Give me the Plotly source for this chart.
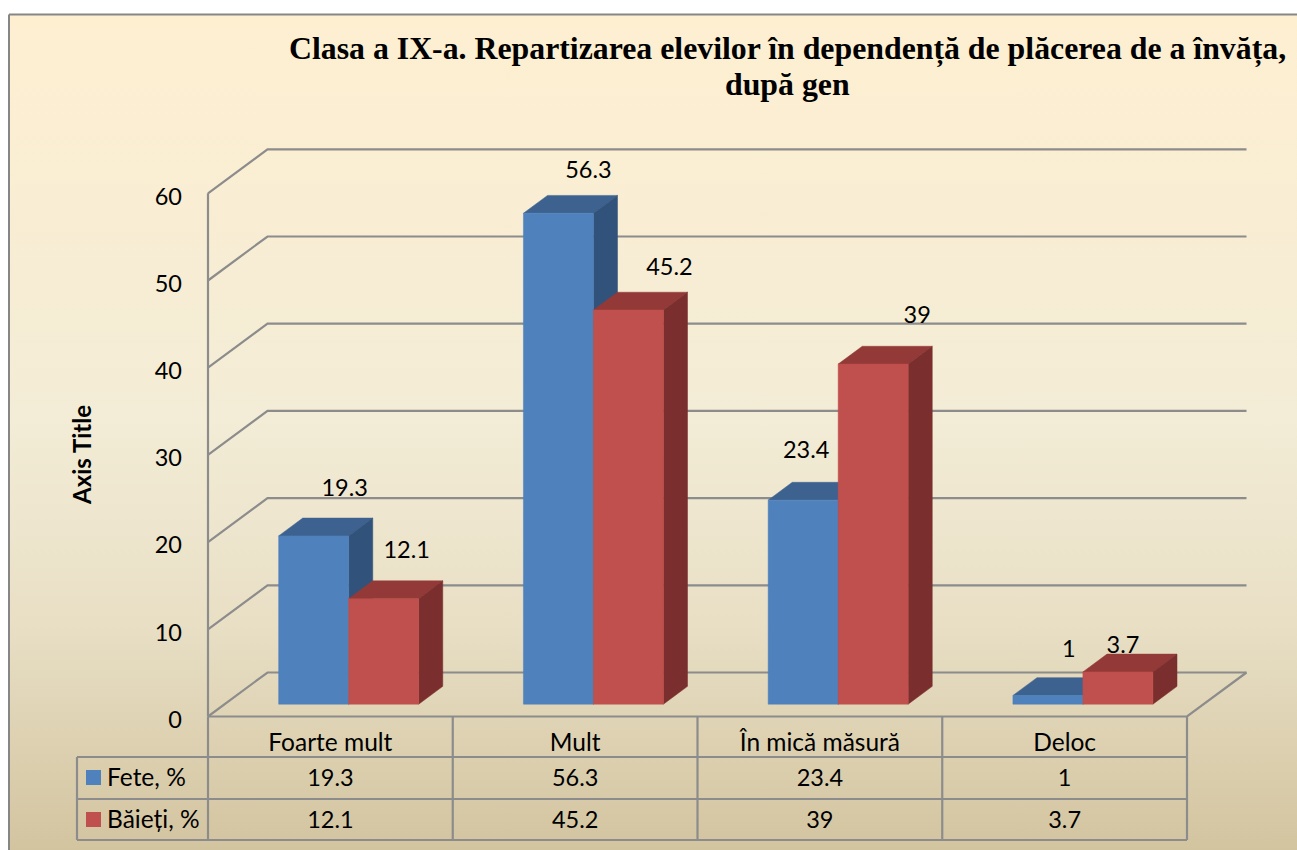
import plotly.graph_objects as go

# ---------- data ----------
categories = ["Foarte mult", "Mult", "În mică măsură", "Deloc"]
fete = [19.3, 56.3, 23.4, 1]
baieti = [12.1, 45.2, 39, 3.7]
series_names = ["Fete, %", "Băieți, %"]
y_ticks = [0, 10, 20, 30, 40, 50, 60]
title_line1 = "Clasa a IX-a. Repartizarea elevilor în dependență de plăcerea de a învăța,"
title_line2 = "după gen"
axis_title = "Axis Title"

# ---------- scale of the page ----------
W, H = 1297, 850
X0_PX, Y0_PX = 208.0, 716.5          # category 0 / value 0 in front plane
CAT_PX, VAL_PX = 244.75, 8.72        # pixels per category / per value unit
n_cat = len(categories)
x_range = [-X0_PX / CAT_PX, (W - X0_PX) / CAT_PX]
y_range = [-(H - Y0_PX) / VAL_PX, Y0_PX / VAL_PX]


def hx(dx_px):
    return dx_px / CAT_PX


def vy(dy_px):
    return dy_px / VAL_PX


def X(p):
    return (p - X0_PX) / CAT_PX


def Y(p):
    return (Y0_PX - p) / VAL_PX


DX, DY = hx(59.5), vy(44.0)          # depth vector of the box
Z0, Z1 = 0.28, 0.685                 # bar extent in depth
BAR_START, BAR_W = hx(54.0), hx(70.0)

GRID = "#8C8C8C"
BLUE = ("#4F81BD", "#3D6290", "#31527A")
RED = ("#C0504D", "#933A38", "#7A2E2D")
FONT = "Lato"
FS_NUM = 23.5
FS_TXT = 24.5

fig = go.Figure()


def poly(xs, ys, color):
    fig.add_trace(go.Scatter(x=xs + xs[:1], y=ys + ys[:1], mode="lines", fill="toself",
                             fillcolor=color, line=dict(color=color, width=0.5),
                             hoverinfo="skip", showlegend=False))


def line(xs, ys, width=2.2, color=GRID):
    fig.add_trace(go.Scatter(x=xs, y=ys, mode="lines", line=dict(color=color, width=width),
                             hoverinfo="skip", showlegend=False))


def text(xs, ys, labels, size=FS_NUM, pos="middle center"):
    fig.add_trace(go.Scatter(x=xs, y=ys, mode="text", text=labels, textposition=pos,
                             textfont=dict(family=FONT, size=size, color="#000000"),
                             hoverinfo="skip", showlegend=False))


# background panel with gradient
fig.add_trace(go.Scatter(
    x=[X(9), X(1310), X(1310), X(9), X(9)], y=[Y(14.5), Y(14.5), Y(860), Y(860), Y(14.5)],
    mode="lines", fill="toself", line=dict(color="#868686", width=2),
    fillgradient=dict(type="vertical", colorscale=[
        [0.0, "#D2C39E"], [0.28, "#E8DFC5"], [0.52, "#F3ECD6"], [1.0, "#FEEFD1"]]),
    hoverinfo="skip", showlegend=False))

# walls and floor
for t in y_ticks:
    line([0, DX, n_cat + DX], [t, t + DY, t + DY])
line([0, 0], [0, y_ticks[-1]])
line([0, n_cat, n_cat + DX], [0, 0, DY])

# bars, back to front
for i in range(n_cat):
    for s, (vals, cols) in enumerate(((fete, BLUE), (baieti, RED))):
        v = vals[i]
        x0 = i + BAR_START + s * BAR_W
        x1 = x0 + BAR_W
        fx0, fx1 = x0 + Z0 * DX, x1 + Z0 * DX
        bx0, bx1 = x0 + Z1 * DX, x1 + Z1 * DX
        fb, bb = Z0 * DY, Z1 * DY
        poly([fx0, fx1, bx1, bx0], [fb + v, fb + v, bb + v, bb + v], cols[1])
        poly([fx1, bx1, bx1, fx1], [fb, bb, bb + v, fb + v], cols[2])
        poly([fx0, fx1, fx1, fx0], [fb, fb, fb + v, fb + v], cols[0])

# data labels (hand-placed in the original): offsets from the bar top-centre, px
label_dx = [[31, 30, 3, 21], [23, 41, 44, 5]]
label_dy = [[46, 41, 48, 44], [47, 41, 47, 25]]
for s, vals in enumerate((fete, baieti)):
    xs, ys = [], []
    for i, v in enumerate(vals):
        xs.append(i + BAR_START + (s + 0.5) * BAR_W + Z0 * DX + hx(label_dx[s][i]))
        ys.append(Z0 * DY + v + vy(label_dy[s][i]))
    text(xs, ys, [str(v) for v in vals])

# data table
row_edges = [Y(757), Y(799), Y(840)]
for k in range(n_cat + 1):
    line([k, k], [0, row_edges[-1]])
line([X(77), n_cat], [row_edges[0]] * 2)
line([X(77), n_cat], [row_edges[1]] * 2)
line([X(77), n_cat], [row_edges[2]] * 2)
line([X(77), X(77)], [row_edges[0], row_edges[2]])

centers = [k + 0.5 for k in range(n_cat)]
text(centers, [Y(745)] * n_cat, categories, size=FS_TXT)
text(centers, [Y(780)] * n_cat, [str(v) for v in fete])
text(centers, [Y(822)] * n_cat, [str(v) for v in baieti])
text([X(107)] * 2, [Y(780), Y(822)], series_names, size=FS_TXT, pos="middle right")
fig.add_trace(go.Scatter(x=[X(93.5)] * 2, y=[Y(777.5), Y(819.5)], mode="markers",
                         marker=dict(symbol="square", size=15, color=[BLUE[0], RED[0]],
                                     line=dict(width=0)),
                         hoverinfo="skip", showlegend=False))

TITLE_FONT = dict(family="Liberation Serif", size=31.8, color="#000000", weight="bold")
fig.update_layout(
    width=W, height=H, autosize=False, margin=dict(l=0, r=0, t=0, b=0),
    paper_bgcolor="#FFFFFF", plot_bgcolor="rgba(0,0,0,0)", showlegend=False,
    font=dict(family=FONT, size=FS_NUM, color="#000000"),
    xaxis=dict(range=x_range, visible=False, fixedrange=True),
    yaxis=dict(range=y_range, showgrid=False, zeroline=False, showline=False, ticks="",
               tickvals=y_ticks, ticktext=[str(t) for t in y_ticks], anchor="free",
               position=182 / W, fixedrange=True, ticklabelshift=3,
               tickfont=dict(family=FONT, size=FS_NUM, color="#000000")),
    annotations=[
        dict(text=title_line1, x=X(787), y=Y(49), xref="x", yref="y", showarrow=False,
             xanchor="center", yanchor="middle", font=TITLE_FONT),
        dict(text=title_line2, x=X(787), y=Y(84), xref="x", yref="y", showarrow=False,
             xanchor="center", yanchor="middle", font=TITLE_FONT),
        dict(text="<b>" + axis_title + "</b>", x=X(81), y=Y(455), xref="x", yref="y",
             textangle=-90, showarrow=False,
             font=dict(family=FONT, size=24, color="#000000")),
    ],
)

fig.write_html("out.html", config=dict(displayModeBar=False),
               post_script="document.body.style.margin='0';document.body.style.overflow='hidden';")
